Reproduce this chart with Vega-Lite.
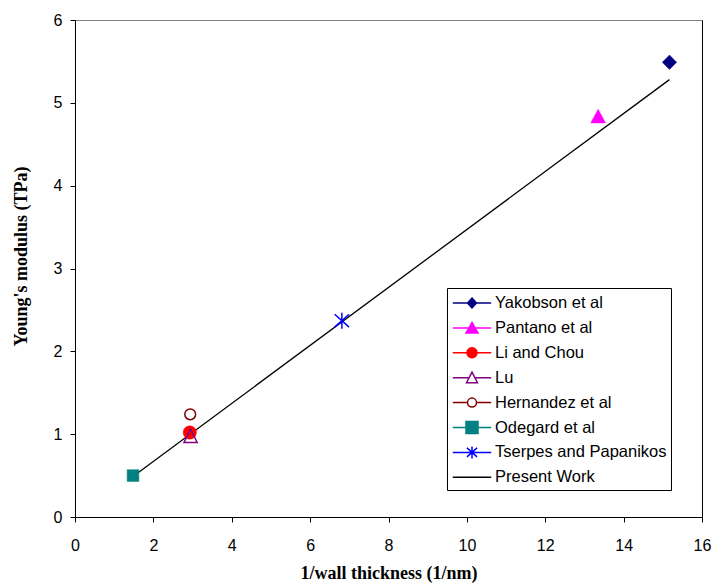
{
  "$schema": "https://vega.github.io/schema/vega-lite/v6.json",
  "width": 627,
  "height": 497,
  "autosize": {"type": "none"},
  "padding": {"left": 75, "top": 20, "right": 12, "bottom": 66},
  "background": "white",
  "config": {
    "view": {"stroke": "#808080", "strokeWidth": 1},
    "axis": {
      "grid": false,
      "domainColor": "black",
      "tickColor": "black",
      "labelColor": "black",
      "labelFont": "Liberation Sans",
      "labelFontSize": 16,
      "titleFont": "Liberation Serif",
      "titleFontSize": 18,
      "titleFontWeight": "bold",
      "titleColor": "black",
      "tickSize": 5,
      "labelFlush": false
    },
    "legend": {
      "orient": "none",
      "legendX": 372,
      "legendY": 268,
      "padding": 4,
      "strokeColor": "black",
      "fillColor": "white",
      "labelFont": "Liberation Sans",
      "labelFontSize": 16.5,
      "labelColor": "black",
      "symbolSize": 400,
      "symbolStrokeWidth": 1.5,
      "symbolOpacity": 1,
      "symbolOffset": 10,
      "labelOffset": 12,
      "rowPadding": 4.9,
      "labelLimit": 300
    }
  },
  "data": {
    "values": [
      {"series": "Present Work", "x": 1.48, "y": 0.49},
      {"series": "Present Work", "x": 15.17, "y": 5.28},
      {"series": "Yakobson et al", "x": 15.17, "y": 5.49},
      {"series": "Pantano et al", "x": 13.35, "y": 4.84},
      {"series": "Li and Chou", "x": 2.93, "y": 1.02},
      {"series": "Lu", "x": 2.95, "y": 0.98},
      {"series": "Hernandez et al", "x": 2.94, "y": 1.24},
      {"series": "Odegard et al", "x": 1.48, "y": 0.5},
      {"series": "Tserpes and Papanikos", "x": 6.81, "y": 2.37}
    ]
  },
  "resolve": {"axis": {"y": "independent"}},
  "encoding": {
    "x": {"field": "x", "type": "quantitative", "scale": {"domain": [0, 16], "nice": false},
          "axis": {"values": [0, 2, 4, 6, 8, 10, 12, 14, 16], "title": "1/wall thickness (1/nm)", "labelBaseline": "middle", "labelPadding": 23, "titleBaseline": "middle", "titleY": 56}}
  },
  "layer": [
    {
      "transform": [{"filter": "datum.series === 'Present Work'"}],
      "mark": {"type": "line", "color": "black", "strokeWidth": 1.3},
      "encoding": {
        "y": {"field": "y", "type": "quantitative", "scale": {"domain": [0, 6], "nice": false},
              "axis": {"values": [0, 1, 2, 3, 4, 5, 6], "title": "Young's modulus (TPa)", "labelPadding": 8, "titleBaseline": "middle", "titleX": -54, "titleY": 236}}
      }
    },
    {
      "mark": {"type": "point", "opacity": 0},
      "encoding": {
        "y": {"field": "y", "type": "quantitative", "scale": {"domain": [0, 6], "nice": false},
              "axis": {"orient": "right", "labels": false, "ticks": false, "title": null, "domainColor": "black"}},
        "shape": {"field": "series", "type": "nominal",
          "scale": {
            "domain": ["Yakobson et al", "Pantano et al", "Li and Chou", "Lu", "Hernandez et al", "Odegard et al", "Tserpes and Papanikos", "Present Work"],
            "range": [
              "M-1.92,0H1.92M0,-0.5L0.45,0L0,0.5L-0.45,0Z",
              "M-1.92,0H1.92M0,-0.55L0.6,0.5H-0.6Z",
              "M-1.92,0H1.92M-0.5,0A0.5,0.5 0 1,0 0.5,0A0.5,0.5 0 1,0 -0.5,0Z",
              "M-1.92,0H-0.29M0.29,0H1.92M0,-0.55L0.55,0.5H-0.55Z",
              "M-1.92,0H-0.45M0.45,0H1.92M-0.45,0A0.45,0.45 0 1,0 0.45,0A0.45,0.45 0 1,0 -0.45,0Z",
              "M-1.92,0H1.92M-0.6,-0.6H0.6V0.6H-0.6Z",
              "M-1.92,0H1.92M0,-0.6V0.6M-0.5,-0.45L0.5,0.45M-0.5,0.45L0.5,-0.45",
              "M-1.92,0H1.92"
            ]
          },
          "legend": {"title": null}
        },
        "fill": {"field": "series", "type": "nominal",
          "scale": {
            "domain": ["Yakobson et al", "Pantano et al", "Li and Chou", "Lu", "Hernandez et al", "Odegard et al", "Tserpes and Papanikos", "Present Work"],
            "range": ["#000080", "#FF00FF", "#FF0000", "white", "white", "#008080", "transparent", "transparent"]
          },
          "legend": {"title": null}
        },
        "stroke": {"field": "series", "type": "nominal",
          "scale": {
            "domain": ["Yakobson et al", "Pantano et al", "Li and Chou", "Lu", "Hernandez et al", "Odegard et al", "Tserpes and Papanikos", "Present Work"],
            "range": ["#000080", "#FF00FF", "#FF0000", "#800080", "#800000", "#008080", "#0000FF", "black"]
          },
          "legend": {"title": null}
        }
      }
    },
    {
      "transform": [{"filter": "datum.series === 'Yakobson et al'"}],
      "mark": {"type": "point", "shape": "M0,-1L1,0L0,1L-1,0Z", "size": 204, "filled": true, "fill": "#000080", "stroke": "#000080", "strokeWidth": 0.5, "opacity": 1},
      "encoding": {"y": {"field": "y", "type": "quantitative", "axis": null}}
    },
    {
      "transform": [{"filter": "datum.series === 'Pantano et al'"}],
      "mark": {"type": "point", "shape": "M0,-0.93L1,0.93H-1Z", "size": 216, "filled": true, "fill": "#FF00FF", "stroke": "#FF00FF", "strokeWidth": 0.5, "opacity": 1},
      "encoding": {"y": {"field": "y", "type": "quantitative", "axis": null}}
    },
    {
      "transform": [{"filter": "datum.series === 'Li and Chou'"}],
      "mark": {"type": "point", "shape": "circle", "size": 177, "filled": true, "fill": "#FF0000", "stroke": "#FF0000", "strokeWidth": 0.5, "opacity": 1},
      "encoding": {"y": {"field": "y", "type": "quantitative", "axis": null}}
    },
    {
      "transform": [{"filter": "datum.series === 'Lu'"}],
      "mark": {"type": "point", "shape": "M0,-1L1,1H-1Z", "size": 174, "filled": false, "stroke": "#800080", "strokeWidth": 1.5, "opacity": 1},
      "encoding": {"y": {"field": "y", "type": "quantitative", "axis": null}}
    },
    {
      "transform": [{"filter": "datum.series === 'Hernandez et al'"}],
      "mark": {"type": "point", "shape": "circle", "size": 117, "filled": false, "stroke": "#800000", "strokeWidth": 1.5, "opacity": 1},
      "encoding": {"y": {"field": "y", "type": "quantitative", "axis": null}}
    },
    {
      "transform": [{"filter": "datum.series === 'Odegard et al'"}],
      "mark": {"type": "point", "shape": "square", "size": 137, "filled": true, "fill": "#008080", "stroke": "#008080", "strokeWidth": 0.5, "opacity": 1},
      "encoding": {"y": {"field": "y", "type": "quantitative", "axis": null}}
    },
    {
      "transform": [{"filter": "datum.series === 'Tserpes and Papanikos'"}],
      "mark": {"type": "point", "shape": "M0,-1V1M-0.9,-0.8L0.9,0.8M-0.9,0.8L0.9,-0.8", "size": 256, "filled": false, "stroke": "#0000FF", "strokeWidth": 1.5, "opacity": 1},
      "encoding": {"y": {"field": "y", "type": "quantitative", "axis": null}}
    }
  ]
}
